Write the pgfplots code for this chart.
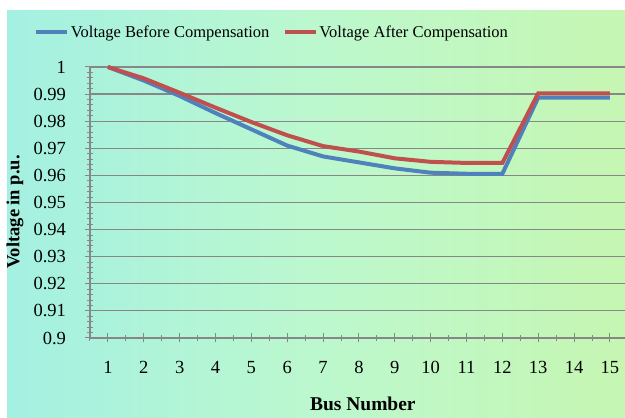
\documentclass[border=0pt]{standalone}
\usepackage{pgfplots}
\pgfplotsset{compat=1.18}
\usepackage{fontspec}
\setmainfont{Liberation Serif}
\definecolor{exblue}{RGB}{79,129,189}
\definecolor{exred}{RGB}{192,80,77}
\definecolor{gridg}{RGB}{135,135,135}
\definecolor{bgleft}{RGB}{164,240,226}
\definecolor{bgmid}{RGB}{188,248,206}
\definecolor{bgright}{RGB}{198,246,178}
\begin{document}
\begin{tikzpicture}[x=1pt,y=1pt]
\useasboundingbox (0,0) rectangle (625,418);
\fill[white] (0,0) rectangle (625,418);
\shade[left color=bgleft, right color=bgright, middle color=bgmid] (7,0) rectangle (625,407);
\begin{axis}[
  at={(90pt,80pt)}, anchor=south west,
  width=535pt, height=271pt, scale only axis,
  xmin=0.5, xmax=15.42, ymin=0.9, ymax=1.0,
  xtick={1,...,15},
  minor xtick={0.5,1.5,...,15.5},
  ytick={0.9,0.91,...,1.001},
  minor y tick num=4,
  ymajorgrids,
  grid style={gridg, line width=1.2pt},
  axis line style={gridg, line width=1.2pt},
  tick style={gridg, line width=1pt},
  tick align=center,
  major tick length=9pt,
  minor tick length=6pt,
  axis x line*=bottom,
  axis y line*=left,
  /pgf/number format/assume math mode=true,
  /pgf/number format/fixed,
  /pgf/number format/precision=2,
  ticklabel style={font=\fontsize{18.5}{20}\selectfont, text=black},
  yticklabel style={xshift=-16pt},
  xticklabel style={yshift=-15pt},
  xlabel={Bus Number},
  ylabel={Voltage in p.u.},
  xlabel style={font=\bfseries\fontsize{19.5}{22}\selectfont, at={(axis description cs:0.51,-0.2435)}, anchor=center},
  ylabel style={font=\bfseries\fontsize{18.5}{22}\selectfont, at={(axis description cs:-0.14,0.465)}, anchor=center},
  legend columns=2,
  legend style={draw=none, fill=none, at={(axis description cs:0.34,1.129)}, anchor=center,
    font=\fontsize{16.5}{19}\selectfont, nodes={inner sep=1.5pt},
    /tikz/every even column/.append style={column sep=12pt}},
  legend image code/.code={\draw[#1, line width=4pt] (0pt,0pt) -- (31pt,0pt);},
  clip=false,
]
\addplot[exblue, line width=4pt] coordinates {
(1,1.000) (2,0.9950) (3,0.9893) (4,0.9830) (5,0.9770) (6,0.9710) (7,0.9670) (8,0.9648) (9,0.9626) (10,0.9610) (11,0.9606) (12,0.9606) (13,0.9887) (14,0.9887) (15,0.9887)};
\addlegendentry{Voltage Before Compensation}
\addplot[exred, line width=4pt] coordinates {
(1,1.000) (2,0.9958) (3,0.9905) (4,0.9850) (5,0.9797) (6,0.9748) (7,0.9708) (8,0.9688) (9,0.9663) (10,0.9650) (11,0.9646) (12,0.9646) (13,0.9903) (14,0.9903) (15,0.9903)};
\addlegendentry{Voltage After Compensation}
\end{axis}
\end{tikzpicture}
\end{document}
